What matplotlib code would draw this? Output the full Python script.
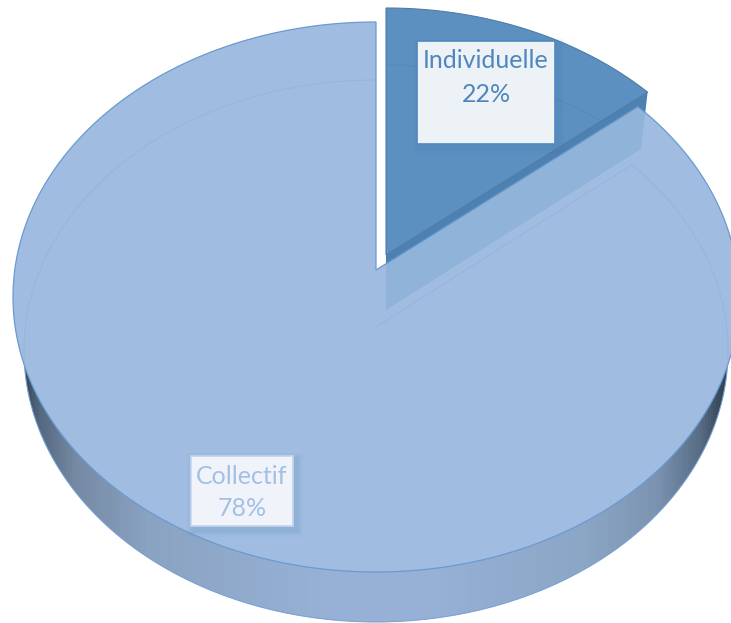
import matplotlib
matplotlib.use("Agg")
import matplotlib.pyplot as plt
import numpy as np
from matplotlib.colors import LinearSegmentedColormap
from matplotlib.patches import Polygon, Rectangle

plt.rcParams['font.family'] = ['Lato', 'DejaVu Sans']

categories = ["Individuelle", "Collectif"]
shares = [22, 78]
# share of the circle as it is really drawn in the picture (not the same as the labels)
drawn_shares = [14, 86]

TOP_BLUE = "#a0bde1"
SLICE_BLUE = "#5b90c1"
EDGE_BLUE = "#6a9ad0"


def project(t, cx, cy, rx, up, down):
    # unit circle seen in perspective, t clockwise from the top
    p = (down - up) / (down + up)
    b = up * (1 + p)
    a = rx * np.sqrt(1 - p ** 2)
    u, v = np.sin(t), np.cos(t)
    w = 1 + p * v
    return cx + a * u / w, cy - b * v / w


def sector(t0, t1, cx, cy, rx, up, down):
    t = np.radians(np.linspace(t0, t1, 300))
    x, y = project(t, cx, cy, rx, up, down)
    return np.column_stack([np.r_[cx, x], np.r_[cy, y]])


def rim(t0, t1, cx, cy, rx, up, down):
    t = np.radians(np.linspace(t0, t1, 300))
    x, y = project(t, cx, cy, rx, up, down)
    return np.column_stack([x, y])


sweep = 3.6 * drawn_shares[0]

top_face = dict(cx=376, cy=270, rx=363, up=248, down=302)
low_face = dict(cx=376, cy=327, rx=352, up=247, down=295)
top_out = dict(cx=386, cy=255, rx=363, up=247, down=302)
low_out = dict(cx=386, cy=310, rx=352, up=245, down=295)

fig = plt.figure(figsize=(7.31, 6.23), dpi=100)
ax = fig.add_axes([0, 0, 1, 1])

# outside wall of the big slice, dark towards both ends
wall = Polygon(sector(sweep, 360, **low_face), transform=ax.transData, fc="none", ec="none")
ax.add_patch(wall)
cmap = LinearSegmentedColormap.from_list("wall", [
    (0.0, "#2f3d4e"), (0.027, "#2f3d4e"), (0.05, "#52677e"), (0.10, "#7489a3"),
    (0.20, "#8aa3c2"), (0.44, "#97b1d6"), (0.60, "#96b0d6"), (0.80, "#8ca6c6"),
    (0.90, "#7c94b1"), (0.96, "#586d85"), (1.0, "#2c3a4a")])
im = ax.imshow(np.linspace(0, 1, 731).reshape(1, -1), extent=(0, 731, 623, 0),
               aspect="auto", cmap=cmap, zorder=1)
im.set_clip_path(wall)
ax.plot(*rim(sweep, 360, **low_face).T, color=EDGE_BLUE, lw=0.6, zorder=2)

# side of the pulled out slice
a = rim(0, sweep, **top_out)[-1]
b = rim(0, sweep, **low_out)[-1]
side = [(386, 255), tuple(a), tuple(b), (386, 310)]
ax.add_patch(Polygon(side, fc="#4a7dae", ec="none", zorder=2))

# big slice
ax.add_patch(Polygon(sector(sweep, 360, **top_face), fc=TOP_BLUE, ec=EDGE_BLUE, lw=0.9, zorder=3))

# things seen through the big slice
ax.add_patch(Polygon(side, fc=SLICE_BLUE, ec="none", alpha=0.22, zorder=4))
ax.plot(*sector(sweep, 360, **low_face).T, color="#8aaad3", lw=0.9, alpha=0.35, zorder=4)

# pulled out slice
ax.add_patch(Polygon(sector(0, sweep, **top_out), fc=SLICE_BLUE, ec="#4f7ca6", lw=0.8, zorder=5))
ax.plot(*rim(0, sweep, **low_out).T, color="#4f82b2", lw=0.9, alpha=0.4, zorder=6,
        clip_path=Polygon(sector(0, sweep, **top_out), transform=ax.transData))

boxes = [(417, 41, 138, 103, "#edf2f7", "#5089bf", 61, 95),
         (191, 456, 102, 70, "#f0f4fa", "#c3d5ec", 477, 508)]
text_colors = ["#4f87bd", "#a3c0e4"]
for name, share, box, tc in zip(categories, shares, boxes, text_colors):
    x, y, w, h, fc, ec, y1, y2 = box
    for grow, al in [(7, 0.04), (5, 0.06), (3, 0.08)]:
        ax.add_patch(Rectangle((x - grow + 3, y - grow + 4), w + 2 * grow, h + 2 * grow,
                               fc="#4a78a8", ec="none", alpha=al, zorder=7))
    ax.add_patch(Rectangle((x, y), w, h, fc=fc, ec=ec, lw=1.2, zorder=8))
    ax.text(x + w / 2, y1, name, color=tc, fontsize=18, ha="center", va="center", zorder=9)
    ax.text(x + w / 2, y2, str(share) + "%", color=tc, fontsize=18, ha="center", va="center", zorder=9)

ax.set_xlim(0, 731)
ax.set_ylim(623, 0)
ax.axis("off")
fig.savefig("out.png", dpi=100)
